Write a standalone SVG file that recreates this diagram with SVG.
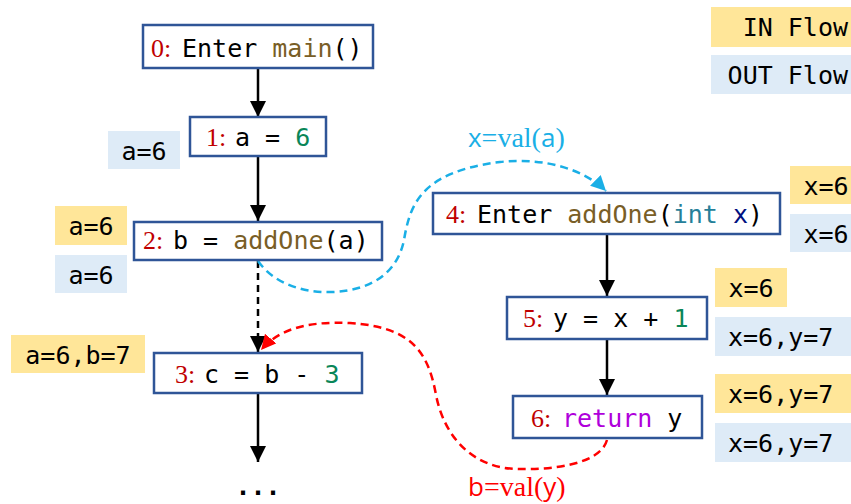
<svg xmlns="http://www.w3.org/2000/svg" width="851" height="504" viewBox="0 0 851 504">
<style>
.node{fill:#fff;stroke:#2F5597;stroke-width:2.5}
.code{font-family:"DejaVu Sans Mono","Liberation Mono",monospace;font-size:25px;fill:#000}
.num{font-family:"Liberation Serif","Times New Roman",serif;font-size:26px;fill:#C00000}
.in{fill:#FFE699}
.out{fill:#DEEBF7}
.fn{fill:#795E26}
.lit{fill:#098658}
.ty{fill:#267F99}
.var{fill:#001080}
.kw{fill:#AF00DB}
.cf{fill:none;stroke:#000;stroke-width:2.5}
.lbl{font-family:"Liberation Serif","Times New Roman",serif;font-size:28px}
.sv{font-family:"Open Sans","Liberation Sans",sans-serif;font-size:26px}
</style>
<defs>
<marker id="ab" viewBox="0 0 10 10" refX="10" refY="5" markerWidth="6.5" markerHeight="6.5" orient="auto" markerUnits="strokeWidth"><path d="M0,0 L10,5 L0,10 z" fill="#000"/></marker>
<marker id="ablue" viewBox="0 0 10 10" refX="10" refY="5" markerWidth="6" markerHeight="6" orient="auto" markerUnits="strokeWidth"><path d="M0,0 L10,5 L0,10 z" fill="#1AAFE6"/></marker>
<marker id="ared" viewBox="0 0 10 10" refX="10" refY="5" markerWidth="6" markerHeight="6" orient="auto" markerUnits="strokeWidth"><path d="M0,0 L10,5 L0,10 z" fill="#FF0000"/></marker>
</defs>

<g id="legend">
<rect class="in" x="711" y="7" width="145" height="40"/>
<text class="code" x="848" y="36" text-anchor="end">IN Flow</text>
<rect class="out" x="711" y="55" width="145" height="39"/>
<text class="code" x="848" y="84" text-anchor="end">OUT Flow</text>
</g>

<g id="connectors">
<line class="cf" x1="258" y1="68" x2="258" y2="117" marker-end="url(#ab)"/>
<line class="cf" x1="258" y1="156" x2="258" y2="221" marker-end="url(#ab)"/>
<line class="cf" x1="258" y1="261" x2="258" y2="352" stroke-dasharray="7,5" marker-end="url(#ab)"/>
<line class="cf" x1="258" y1="393" x2="258" y2="462" marker-end="url(#ab)"/>
<line class="cf" x1="607" y1="234" x2="607" y2="296" marker-end="url(#ab)"/>
<line class="cf" x1="607" y1="339" x2="607" y2="395" marker-end="url(#ab)"/>
<path d="M 258 261 C 275 285 305 293 333 292 C 375 290 398 270 404 240 C 410 205 420 172 500 162 C 545 157 585 170 606 191" fill="none" stroke="#1AAFE6" stroke-width="2.5" stroke-dasharray="8,5" marker-end="url(#ablue)"/>
<path d="M 607 440 C 600 465 550 470 517 469 C 475 468 445 440 436 395 C 428 350 410 327 350 323 C 305 321 278 330 261 350" fill="none" stroke="#FF0000" stroke-width="2.5" stroke-dasharray="8,5" marker-end="url(#ared)"/>
<text class="lbl" x="468" y="147" fill="#1AAFE6"><tspan class="sv">x</tspan>=val(<tspan class="sv">a</tspan>)</text>
<text class="lbl" x="468" y="496" fill="#FF0000"><tspan class="sv">b</tspan>=val(<tspan class="sv">y</tspan>)</text>
<text class="code" x="258" y="495" text-anchor="middle" font-weight="bold">...</text>
</g>

<g id="n0">
<rect class="node" x="143" y="25" width="230" height="43"/>
<text class="num" x="151" y="57">0:</text>
<text class="code" x="182" y="57">Enter <tspan class="fn">main</tspan>()</text>
</g>

<g id="n1">
<rect class="node" x="190" y="117" width="136" height="39"/>
<text class="num" x="206" y="146">1:</text>
<text class="code" x="235" y="146">a = <tspan class="lit">6</tspan></text>
<rect class="out" x="108" y="131" width="72" height="38"/>
<text class="code" x="144" y="160" text-anchor="middle">a=6</text>
</g>

<g id="n2">
<rect class="node" x="134" y="222" width="248" height="38"/>
<text class="num" x="143" y="249">2:</text>
<text class="code" x="173" y="249">b = <tspan class="fn">addOne</tspan>(a)</text>
<rect class="in" x="55" y="206" width="72" height="39"/>
<text class="code" x="91" y="235" text-anchor="middle">a=6</text>
<rect class="out" x="55" y="255" width="72" height="38"/>
<text class="code" x="91" y="284" text-anchor="middle">a=6</text>
</g>

<g id="n3">
<rect class="node" x="154" y="353" width="208" height="40"/>
<text class="num" x="175" y="383">3:</text>
<text class="code" x="204" y="383">c = b - <tspan class="lit">3</tspan></text>
<rect class="in" x="11" y="335" width="134" height="38"/>
<text class="code" x="78" y="364" text-anchor="middle">a=6,b=7</text>
</g>

<g id="n4">
<rect class="node" x="433" y="193" width="347" height="41"/>
<text class="num" x="446" y="223">4:</text>
<text class="code" x="477" y="223">Enter <tspan class="fn">addOne</tspan>(<tspan class="ty">int</tspan> <tspan class="var">x</tspan>)</text>
<rect class="in" x="790" y="166" width="72" height="38"/>
<text class="code" x="826" y="195" text-anchor="middle">x=6</text>
<rect class="out" x="790" y="214" width="72" height="38"/>
<text class="code" x="826" y="243" text-anchor="middle">x=6</text>
</g>

<g id="n5">
<rect class="node" x="507" y="297" width="200" height="42"/>
<text class="num" x="523" y="327">5:</text>
<text class="code" x="553" y="327">y = x + <tspan class="lit">1</tspan></text>
<rect class="in" x="715" y="268" width="72" height="39"/>
<text class="code" x="751" y="297" text-anchor="middle">x=6</text>
<rect class="out" x="715" y="317" width="140" height="39"/>
<text class="code" x="728" y="346">x=6,y=7</text>
</g>

<g id="n6">
<rect class="node" x="513" y="396" width="189" height="42"/>
<text class="num" x="531" y="427">6:</text>
<text class="code" x="562" y="427"><tspan class="kw">return</tspan> y</text>
<rect class="in" x="715" y="374" width="140" height="39"/>
<text class="code" x="728" y="403">x=6,y=7</text>
<rect class="out" x="715" y="423" width="140" height="39"/>
<text class="code" x="728" y="452">x=6,y=7</text>
</g>
</svg>
